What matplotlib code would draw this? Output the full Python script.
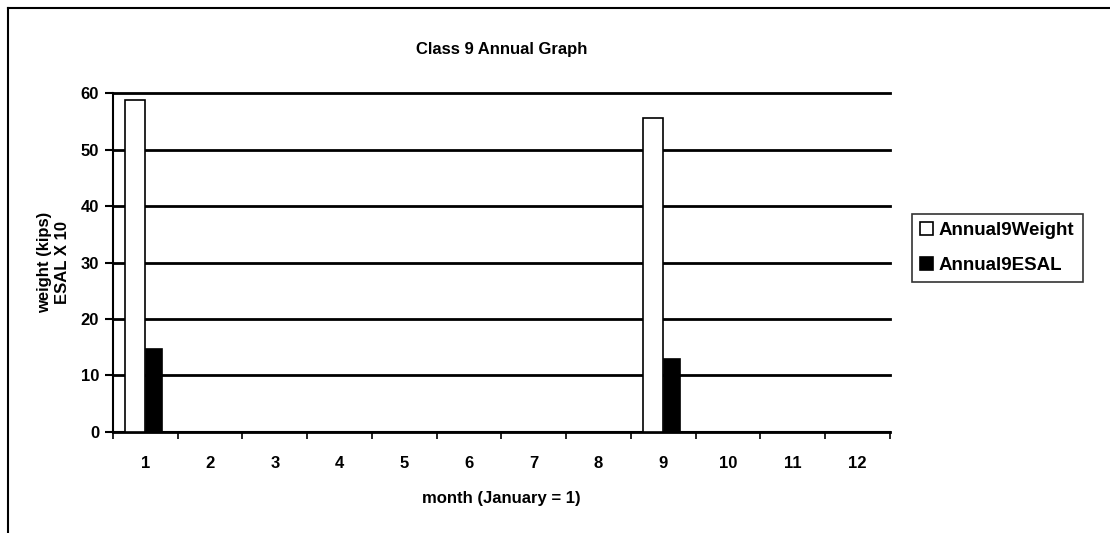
import matplotlib
matplotlib.use("Agg")
import matplotlib.pyplot as plt
from matplotlib.lines import Line2D
import numpy as np

months = [1, 2, 3, 4, 5, 6, 7, 8, 9, 10, 11, 12]
month_labels = [str(m) for m in months]
weight = [58.8, 0, 0, 0, 0, 0, 0, 0, 55.6, 0, 0, 0]
esal = [14.7, 0, 0, 0, 0, 0, 0, 0, 12.9, 0, 0, 0]
yticks = [0, 10, 20, 30, 40, 50, 60]

plt.rcParams['font.family'] = ['Liberation Sans', 'DejaVu Sans']
plt.rcParams['font.weight'] = 'bold'

fig = plt.figure(figsize=(11.10, 5.33), dpi=100)
ax = fig.add_axes([0.1018, 0.1895, 0.7, 0.636])

x = np.arange(len(months))
ax.bar(x - 0.165, weight, width=0.31, color='white', edgecolor='black', linewidth=1.2, zorder=3, label='Annual9Weight')
ax.bar(x + 0.13, esal, width=0.25, color='black', edgecolor='black', linewidth=1.2, zorder=3, label='Annual9ESAL')

ax.set_xlim(-0.5, len(months) - 0.5)
ax.set_ylim(0, 60)
ax.set_yticks(yticks)
ax.set_yticklabels([str(t) for t in yticks], fontsize=12, fontweight='bold')
ax.set_xticks(x)
ax.set_xticklabels(month_labels, fontsize=12, fontweight='bold')
ax.tick_params(axis='x', which='major', length=0, pad=17)
ax.set_xticks(np.arange(-0.5, len(months)), minor=True)
ax.tick_params(axis='x', which='minor', length=5, width=1.2, direction='out')
ax.tick_params(axis='y', length=6, width=1.5, direction='out', pad=4)

ax.grid(axis='y', color='black', linewidth=2.0, zorder=0)
for gl in ax.get_ygridlines():
    gl.set_clip_on(False)
ax.set_axisbelow(True)
for s in ['top', 'right']:
    ax.spines[s].set_visible(False)
ax.spines['left'].set_linewidth(1.5)
ax.spines['bottom'].set_linewidth(1.5)

ax.set_title('Class 9 Annual Graph', fontsize=12, fontweight='bold', pad=28)
ax.set_xlabel('month (January = 1)', fontsize=12, fontweight='bold', labelpad=15)
ax.set_ylabel('weight (kips)\nESAL X 10', fontsize=12, fontweight='bold', labelpad=8)

leg = fig.legend(loc='upper left', bbox_to_anchor=(0.813, 0.617), frameon=True, fancybox=False,
                 edgecolor='black', fontsize=13.5, handlelength=0.7, handleheight=0.7,
                 handletextpad=0.3, borderpad=0.45, labelspacing=0.95)
leg.get_frame().set_linewidth(1.2)

# outer frame (top and left edges)
fig.add_artist(Line2D([0.0072, 1.0], [0.985, 0.985], color='black', linewidth=1.5, transform=fig.transFigure))
fig.add_artist(Line2D([0.0072, 0.0072], [0.0, 0.985], color='black', linewidth=1.5, transform=fig.transFigure))

fig.savefig('out.png', dpi=100)
